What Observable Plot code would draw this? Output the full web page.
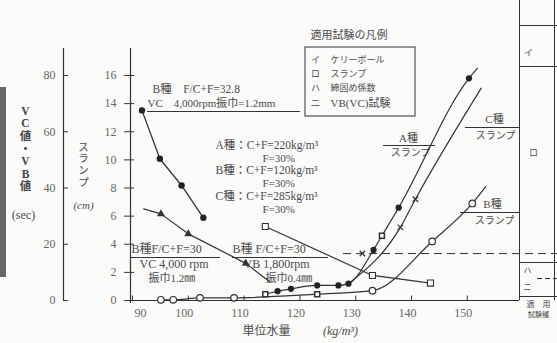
<!DOCTYPE html>
<html><head><meta charset="utf-8">
<script src="https://cdn.jsdelivr.net/npm/d3@7"></script>
<script src="https://cdn.jsdelivr.net/npm/@observablehq/plot@0.6"></script>
<style>
html,body{margin:0;padding:0;background:#fbfbfa;}
svg{display:block;overflow:visible;}
</style></head><body>
<div id="chart"></div>
<script>
// ---------- data ----------
const xTicks = [90, 100, 110, 120, 130, 140, 150];
const slumpTicks = [0, 2, 4, 6, 8, 10, 12, 14, 16];
const vcTicks = [0, 20, 40, 60, 80];

// B種 F/C+F=32.8, VC 4,000rpm 振巾1.2mm  (VC value, sec)
const bVc328X = [91.7, 94.9, 98.8, 102.7];
const bVc328Sec = [67.6, 50.4, 40.9, 29.4];

// B種 F/C+F=30, VC 4,000rpm 振巾1.2mm (sec)
const bVc30X = [92.0, 95.1, 100.0, 110.3, 114.7];
const bVc30Sec = [32.6, 30.8, 23.7, 13.2, 6.5];
const bVc30Mark = [false, true, true, true, false];

// B種 F/C+F=30, VB 1,800rpm 振巾0.4mm (sec)
const bVb30X = [113.8, 133.0, 143.4];
const bVb30Sec = [26.3, 8.9, 6.2];

// A種 slump (cm)
const aSlumpX = [113.8, 116.0, 118.4, 123.1, 126.9, 128.7, 133.2, 134.7, 137.7, 150.3, 151.8];
const aSlumpCm = [0.45, 0.66, 0.83, 1.07, 1.07, 1.2, 3.6, 4.6, 6.6, 15.8, 16.5];
const aSlumpMark = ["square", "circle", "circle", "circle", "circle", "circle", "circle", "square", "circle", "circle", ""];

// B種 slump (cm)
const bSlumpX = [95.1, 97.3, 102.1, 108.2, 123.1, 133.0, 143.7, 150.9, 153.3];
const bSlumpCm = [0.05, 0.05, 0.19, 0.19, 0.45, 0.7, 4.2, 6.9, 8.1];
const bSlumpMark = ["circle", "circle", "circle", "circle", "square", "circle", "circle", "circle", ""];

// C種 slump (cm)
const cSlumpX = [128.7, 138.0, 140.7, 152.5];
const cSlumpCm = [1.2, 5.2, 7.2, 15.1];
const cSlumpMark = ["", "times", "times", ""];

// dashed limit line (slump, cm) and its marker
const limitCm = 3.34;
const limitMarkX = [131.2];

// ---------- helpers ----------
const PX = 5.58, PY = 14.0625, SEC_PER_CM = 5;
const ix = px => 90 + (px - 132) / PX;      // pixel -> x data (annotations only)
const iy = py => (300 - py) / PY;           // pixel -> y data (annotations only)
const ink = "#333", txt = "#4a4a4a";
const serif = "'Liberation Serif','Noto Sans CJK JP',serif";

const rows = (xs, ys, f = v => v, extra = []) =>
  xs.map((x, i) => ({x, y: f(ys[i]), m: extra[i]}));

function note(str, px, py, o = {}) {
  return Plot.text([str], {x: ix(px), y: iy(py), text: d => d, fill: txt, fontSize: 12, textAnchor: "start", ...o});
}
function hline(px1, px2, py, o = {}) {
  return Plot.ruleY([iy(py)], {x1: ix(px1), x2: ix(px2), stroke: ink, strokeWidth: 1, ...o});
}
function vline(px, py1, py2, o = {}) {
  return Plot.ruleX([ix(px)], {y1: iy(py1), y2: iy(py2), stroke: ink, strokeWidth: 1, ...o});
}

const vc328 = rows(bVc328X, bVc328Sec, s => s / SEC_PER_CM);
const vc30 = rows(bVc30X, bVc30Sec, s => s / SEC_PER_CM, bVc30Mark);
const vb30 = rows(bVb30X, bVb30Sec, s => s / SEC_PER_CM);
const aS = rows(aSlumpX, aSlumpCm, v => v, aSlumpMark);
const bS = rows(bSlumpX, bSlumpCm, v => v, bSlumpMark);
const cS = rows(cSlumpX, cSlumpCm, v => v, cSlumpMark);

const chart = Plot.plot({
  width: 557, height: 343,
  marginLeft: 130, marginRight: 38, marginTop: 50, marginBottom: 43,
  x: {domain: [ix(130), ix(519)], axis: null},
  y: {domain: [0, iy(50)], axis: null},
  style: {background: "transparent", fontFamily: serif, overflow: "visible"},
  marks: [
    // scan shadow at the left edge
    Plot.rect([0], {x1: ix(0), x2: ix(6), y1: iy(277), y2: iy(87), fill: "#666"}),

    // outer VC/VB axis
    vline(63, 300, 48, {strokeWidth: 1.2}),
    Plot.ruleY(vcTicks, {y: d => d / SEC_PER_CM, x1: ix(63), x2: ix(68), stroke: ink}),
    Plot.text(vcTicks, {y: d => d / SEC_PER_CM, x: ix(55), text: d => String(d), textAnchor: "end", fill: "#666", fontSize: 12}),

    // inner slump axis
    vline(130, 303, 48, {strokeWidth: 1.2}),
    Plot.ruleY(slumpTicks, {y: d => d, x1: ix(124), x2: ix(134), stroke: ink}),
    Plot.text(slumpTicks, {y: d => d, x: ix(116), text: d => String(d), textAnchor: "end", fill: "#666", fontSize: 12}),

    // x axis
    Plot.ruleY([0], {x1: ix(130), x2: ix(519), stroke: ink, strokeWidth: 1.2}),
    Plot.ruleX(xTicks, {x: d => d, y1: 0, y2: iy(295.5), stroke: ink}),
    Plot.text(xTicks.slice(1), {x: d => d, y: 0, dy: 13, dx: -4, text: d => String(d), fill: "#666", fontSize: 12}),
    Plot.text(xTicks.slice(0, 1), {x: d => d, y: 0, dy: 13, dx: 8, text: d => String(d), fill: "#666", fontSize: 12}),

    // axis titles
    note("V\nC\n値\n・\nV\nB\n値", 25, 148, {textAnchor: "middle", fontSize: 11.5, fontWeight: "bold", lineHeight: 1.1, fill: "#444"}),
    note("(sec)", 23, 215, {textAnchor: "middle", fontSize: 12}),
    note("ス\nラ\nン\nプ", 83, 164, {textAnchor: "middle", fontSize: 10.5, lineHeight: 1.12}),
    note("(cm)", 83, 205, {textAnchor: "middle", fontSize: 11, fontStyle: "italic"}),
    note("単位水量", 266, 331, {textAnchor: "middle", fontSize: 12}),
    note("(kg/m³)", 340, 331, {textAnchor: "middle", fontSize: 12, fontStyle: "italic"}),

    // right panel (applicable tests)
    vline(519, 0, 300),
    vline(554, 0, 300),
    hline(519, 557, 25),
    hline(519, 557, 66),
    hline(519, 557, 262),
    hline(519, 557, 296),
    hline(537, 557, 278, {strokeDasharray: "5,3"}),
    note("イ", 528, 53, {fontSize: 9, textAnchor: "middle"}),
    note("ロ", 533, 153, {fontSize: 9, textAnchor: "middle"}),
    note("ハ", 527, 270, {fontSize: 8, textAnchor: "middle"}),
    note("ニ", 527, 287, {fontSize: 8, textAnchor: "middle"}),
    note("適　用", 538, 304, {fontSize: 8, textAnchor: "middle"}),
    note("試験種", 538, 314, {fontSize: 7, textAnchor: "middle"}),

    // dashed limit line
    Plot.ruleY([limitCm], {x1: ix(343), x2: ix(557), stroke: ink, strokeDasharray: "8,5"}),
    Plot.dot(limitMarkX, {x: d => d, y: limitCm, symbol: "times", r: 2.6, stroke: ink, strokeWidth: 1.2}),

    // legend box
    note("適用試験の凡例", 310, 35, {fontSize: 11}),
    Plot.rect([0], {x1: ix(305), x2: ix(415), y1: iy(116), y2: iy(47), fill: "none", stroke: ink}),
    note("イ", 315, 60, {fontSize: 9, textAnchor: "middle"}),
    note("ケリーボール", 330, 60, {fontSize: 9}),
    note("ロ", 315, 74, {fontSize: 9, textAnchor: "middle"}),
    note("スランプ", 330, 74, {fontSize: 9}),
    note("ハ", 315, 88, {fontSize: 9, textAnchor: "middle"}),
    note("締固め係数", 330, 88, {fontSize: 9}),
    note("ニ", 315, 103, {fontSize: 10, textAnchor: "middle"}),
    note("VB(VC)試験", 330, 103, {fontSize: 11}),

    // annotations: top-left
    note("B種　F/C+F=32.8", 152, 89, {fontSize: 11.5}),
    note("VC　4,000rpm振巾=1.2mm", 147, 103, {fontSize: 11}),
    hline(147, 300, 111),

    // mix descriptions
    note("A種：C+F=220kg/m³", 215, 145, {fontSize: 11.5}),
    note("F=30%", 262, 157.5, {fontSize: 11}),
    note("B種：C+F=120kg/m³", 215, 170, {fontSize: 11.5}),
    note("F=30%", 262, 182.5, {fontSize: 11}),
    note("C種：C+F=285kg/m³", 215, 196, {fontSize: 11.5}),
    note("F=30%", 262, 208.5, {fontSize: 11}),

    // bottom-left notes
    note("B種F/C+F=30", 131, 249, {fontSize: 12}),
    hline(130, 220, 257),
    note("VC 4,000 rpm", 139, 264, {fontSize: 12}),
    note("振巾1.2㎜", 148, 277.5, {fontSize: 11}),
    note("B種 F/C+F=30", 232, 249, {fontSize: 12}),
    hline(232, 328, 257),
    note("VB 1,800rpm", 243, 264, {fontSize: 12}),
    note("振巾0.4㎜", 265, 277.5, {fontSize: 11}),

    // curve labels
    note("A種", 408, 138, {fontSize: 11, textAnchor: "middle"}),
    hline(383, 435, 145),
    note("スランプ", 410, 152.5, {fontSize: 10, textAnchor: "middle"}),
    note("C種", 494, 119, {fontSize: 11, textAnchor: "middle"}),
    hline(465, 519, 127),
    note("スランプ", 495, 135.5, {fontSize: 10, textAnchor: "middle"}),
    note("B種", 492, 204, {fontSize: 11, textAnchor: "middle"}),
    hline(460, 519, 212),
    note("スランプ", 494, 220.5, {fontSize: 10, textAnchor: "middle"}),

    // ---------- data series ----------
    Plot.line(vc328, {x: "x", y: "y", stroke: ink, strokeWidth: 1.3}),
    Plot.dot(vc328, {x: "x", y: "y", r: 3.2, fill: "#222"}),

    Plot.line(vc30, {x: "x", y: "y", stroke: ink, strokeWidth: 1.2}),
    Plot.dot(vc30.filter(d => d.m), {x: "x", y: "y", symbol: "triangle", r: 3, fill: "#333"}),

    Plot.line(vb30, {x: "x", y: "y", stroke: ink, strokeWidth: 1.2}),
    Plot.dot(vb30, {x: "x", y: "y", symbol: "square", r: 3.4, fill: "#fff", stroke: ink, strokeWidth: 1.1}),

    Plot.line(bS, {x: "x", y: "y", stroke: ink, strokeWidth: 1.2, curve: "monotone-x"}),
    Plot.line(aS, {x: "x", y: "y", stroke: ink, strokeWidth: 1.2, curve: "monotone-x"}),
    Plot.line(cS, {x: "x", y: "y", stroke: ink, strokeWidth: 1.2, curve: "monotone-x"}),

    Plot.dot(bS.filter(d => d.m === "circle"), {x: "x", y: "y", r: 3.3, fill: "#fff", stroke: ink, strokeWidth: 1.2}),
    Plot.dot(bS.filter(d => d.m === "square"), {x: "x", y: "y", symbol: "square", r: 2.8, fill: "#fff", stroke: ink}),
    Plot.dot(aS.filter(d => d.m === "circle"), {x: "x", y: "y", r: 3.1, fill: "#222"}),
    Plot.dot(aS.filter(d => d.m === "square"), {x: "x", y: "y", symbol: "square", r: 2.8, fill: "#fff", stroke: ink}),
    Plot.dot(cS.filter(d => d.m === "times"), {x: "x", y: "y", symbol: "times", r: 2.6, stroke: ink, strokeWidth: 1.2})
  ]
});
document.getElementById("chart").append(chart);
</script>
</body></html>
